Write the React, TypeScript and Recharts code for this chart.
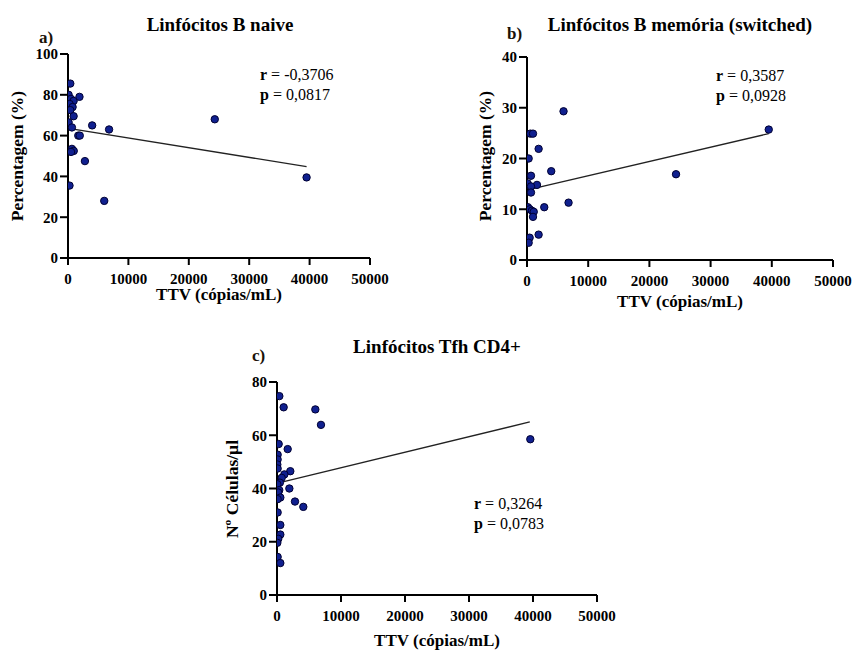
import React from 'react';
import { ScatterChart, Scatter, XAxis, YAxis, ReferenceLine, Customized } from 'recharts';

const FONT = '"Liberation Serif", "Times New Roman", Times, serif';

// shared x axis
const ttvTicks = [0, 10000, 20000, 30000, 40000, 50000];

// a) Linfócitos B naive
const naiveTTV = [380, 100, 490, 930, 1900, 270, 760, 380, 930, 100, 650, 4000, 6800, 1700, 1950, 650, 950, 500, 2800, 250, 6000, 24300, 39500];
const naivePct = [85.5, 80, 78, 77, 79, 75.5, 74, 72.5, 69.5, 66.5, 64, 65, 63, 60, 60, 53.5, 52.5, 52, 47.5, 35.5, 28, 68, 39.5];
const naiveTrendX = [100, 39500];
const naiveTrendY = [63.5, 44.8];
const naiveTicks = [0, 20, 40, 60, 80, 100];

// b) Linfócitos B memória (switched)
const memTTV = [5970, 540, 980, 1900, 270, 3960, 650, 100, 1630, 650, 650, 6790, 2820, 150, 450, 800, 1100, 980, 1900, 430, 270, 24350, 39500];
const memPct = [29.3, 24.9, 24.9, 21.9, 20, 17.5, 16.6, 15.1, 14.8, 14.5, 13.3, 11.3, 10.4, 10.4, 10, 9.7, 9.5, 8.5, 5, 4.4, 3.4, 16.9, 25.7];
const memTrendX = [100, 39500];
const memTrendY = [13.8, 24.9];
const memTicks = [0, 10, 20, 30, 40];

// c) Linfócitos Tfh CD4+
const tfhTTV = [365, 1040, 5990, 6870, 260, 1670, 100, 100, 50, 100, 2080, 1150, 730, 450, 50, 1930, 350, 200, 520, 100, 2810, 4110, 100, 520, 520, 200, 50, 100, 520, 39580];
const tfhCells = [74.7, 70.5, 69.7, 63.9, 56.7, 54.8, 52.7, 50.9, 49, 47.5, 46.5, 45.3, 44, 42.2, 41.6, 40, 39.4, 38.5, 36.6, 36, 35.1, 33.1, 31, 26.3, 22.7, 21.1, 19.6, 14.3, 12, 58.5];
const tfhTrendX = [100, 39500];
const tfhTrendY = [42, 65];
const tfhTicks = [0, 20, 40, 60, 80];

const toPoints = (xs: number[], ys: number[]) => xs.map((x, i) => ({ x, y: ys[i] }));

const Dot = (props: any) => {
  const { cx, cy } = props;
  if (cx == null || cy == null) return null;
  return <circle cx={cx} cy={cy} r={3.7} fill="#10208f" stroke="#000033" strokeWidth={1} />;
};

const tickStyle = { fontSize: 15, fontWeight: 'bold', fill: '#000', fontFamily: FONT };

type PanelProps = {
  left: number;
  top: number;
  width: number;
  height: number;
  margin: { top: number; right: number; bottom: number; left: number };
  yAxisWidth: number;
  xAxisHeight: number;
  yMax: number;
  yTicks: number[];
  data: { x: number; y: number }[];
  trend: { x: number; y: number }[];
  overlay: React.ReactNode;
};

function Panel(p: PanelProps) {
  return (
    <div style={{ position: 'absolute', left: p.left, top: p.top, width: p.width, height: p.height }}>
      <ScatterChart width={p.width} height={p.height} margin={p.margin}>
        <XAxis
          type="number"
          dataKey="x"
          domain={[0, 50000]}
          ticks={ttvTicks}
          interval={0}
          height={p.xAxisHeight}
          tickSize={7}
          tickMargin={8}
          axisLine={{ stroke: '#000', strokeWidth: 2 }}
          tickLine={{ stroke: '#000', strokeWidth: 2 }}
          tick={tickStyle}
          allowDataOverflow
        />
        <YAxis
          type="number"
          dataKey="y"
          domain={[0, p.yMax]}
          ticks={p.yTicks}
          interval={0}
          width={p.yAxisWidth}
          tickSize={8}
          tickMargin={2}
          axisLine={{ stroke: '#000', strokeWidth: 2 }}
          tickLine={{ stroke: '#000', strokeWidth: 2 }}
          tick={tickStyle}
          allowDataOverflow
        />
        <ReferenceLine
          segment={p.trend}
          stroke="#222"
          strokeWidth={1.3}
          ifOverflow="visible"
        />
        <Scatter data={p.data} shape={Dot} isAnimationActive={false} />
        <Customized component={<g>{p.overlay}</g>} />
      </ScatterChart>
    </div>
  );
}

const Stat = ({ x, y, r, pv }: { x: number; y: number; r: string; pv: string }) => (
  <g fontFamily={FONT} fontSize={16} fill="#000">
    <text x={x} y={y}>
      <tspan fontWeight="bold">r</tspan> = {r}
    </text>
    <text x={x} y={y + 20}>
      <tspan fontWeight="bold">p</tspan> = {pv}
    </text>
  </g>
);

const Title = ({ x, y, children }: { x: number; y: number; children: React.ReactNode }) => (
  <text x={x} y={y} textAnchor="middle" fontFamily={FONT} fontSize={19} fontWeight="bold" fill="#000">
    {children}
  </text>
);

const Letter = ({ x, y, children }: { x: number; y: number; children: React.ReactNode }) => (
  <text x={x} y={y} fontFamily={FONT} fontSize={17} fontWeight="bold" fill="#1a1208">
    {children}
  </text>
);

const YTitle = ({ x, y, children }: { x: number; y: number; children: React.ReactNode }) => (
  <text
    x={x}
    y={y}
    textAnchor="middle"
    dominantBaseline="central"
    transform={`rotate(-90, ${x}, ${y})`}
    fontFamily={FONT}
    fontSize={17.5}
    fontWeight="bold"
    fill="#000"
  >
    {children}
  </text>
);

const XTitle = ({ x, y, children }: { x: number; y: number; children: React.ReactNode }) => (
  <text x={x} y={y} textAnchor="middle" fontFamily={FONT} fontSize={17} fontWeight="bold" fill="#000">
    {children}
  </text>
);

export default function App() {
  return (
    <div style={{ position: 'absolute', left: 0, top: 0, width: 854, height: 650, background: '#fff', overflow: 'hidden' }}>
      <Panel
        left={0}
        top={0}
        width={400}
        height={312}
        margin={{ top: 54, right: 30, bottom: 0, left: 0 }}
        yAxisWidth={68}
        xAxisHeight={54}
        yMax={100}
        yTicks={naiveTicks}
        data={toPoints(naiveTTV, naivePct)}
        trend={toPoints(naiveTrendX, naiveTrendY)}
        overlay={
          <>
            <Title x={220} y={31}>Linfócitos B naive</Title>
            <Letter x={39} y={43}>a)</Letter>
            <YTitle x={17} y={156}>Percentagem (%)</YTitle>
            <XTitle x={219} y={300}>TTV (cópias/mL)</XTitle>
            <Stat x={260} y={80} r="-0,3706" pv="0,0817" />
          </>
        }
      />
      <Panel
        left={430}
        top={0}
        width={424}
        height={318}
        margin={{ top: 57, right: 21, bottom: 0, left: 0 }}
        yAxisWidth={97}
        xAxisHeight={58}
        yMax={40}
        yTicks={memTicks}
        data={toPoints(memTTV, memPct)}
        trend={toPoints(memTrendX, memTrendY)}
        overlay={
          <>
            <Title x={250} y={31}>Linfócitos B memória (switched)</Title>
            <Letter x={77} y={39}>b)</Letter>
            <YTitle x={55} y={156}>Percentagem (%)</YTitle>
            <XTitle x={250} y={307}>TTV (cópias/mL)</XTitle>
            <Stat x={286} y={81} r="0,3587" pv="0,0928" />
          </>
        }
      />
      <Panel
        left={200}
        top={320}
        width={420}
        height={330}
        margin={{ top: 62, right: 23, bottom: 0, left: 0 }}
        yAxisWidth={77}
        xAxisHeight={55}
        yMax={80}
        yTicks={tfhTicks}
        data={toPoints(tfhTTV, tfhCells)}
        trend={toPoints(tfhTrendX, tfhTrendY)}
        overlay={
          <>
            <Title x={237} y={33}>Linfócitos Tfh CD4+</Title>
            <Letter x={52} y={41}>c)</Letter>
            <YTitle x={32} y={169}>Nº Células/µl</YTitle>
            <XTitle x={237} y={326}>TTV (cópias/mL)</XTitle>
            <Stat x={274} y={189} r="0,3264" pv="0,0783" />
          </>
        }
      />
    </div>
  );
}
